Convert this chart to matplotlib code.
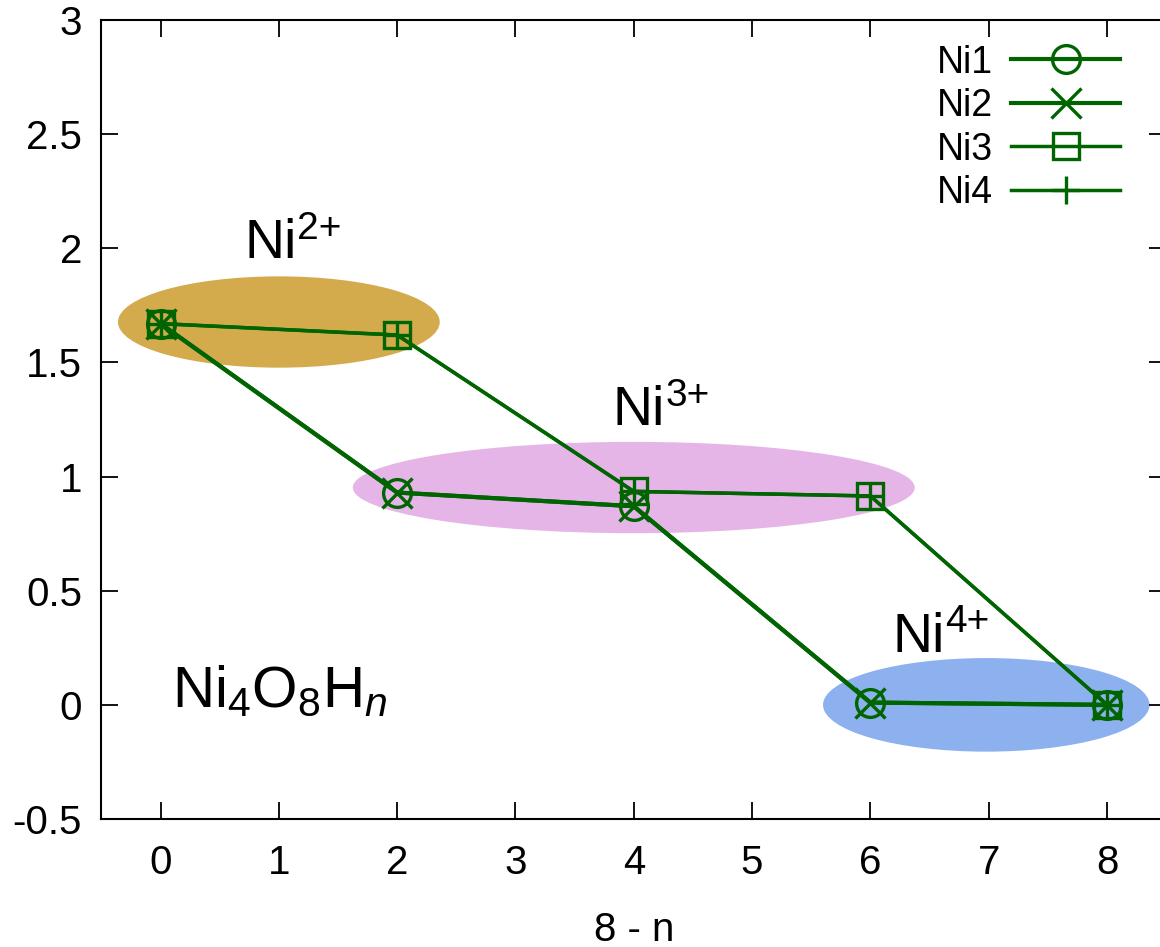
import matplotlib
matplotlib.use("Agg")
import matplotlib.pyplot as plt
from matplotlib.patches import Ellipse

plt.rcParams['font.family'] = ['Liberation Sans', 'DejaVu Sans']
plt.rcParams['mathtext.fontset'] = 'custom'
plt.rcParams['mathtext.rm'] = 'Liberation Sans'
plt.rcParams['mathtext.it'] = 'Liberation Sans:italic'

# data: 8 - n vs. value for each Ni site
x = [0, 2, 4, 6, 8]
ni1 = [1.67, 0.93, 0.87, 0.01, 0.0]
ni2 = [1.67, 0.93, 0.87, 0.01, 0.0]
ni3 = [1.67, 1.62, 0.935, 0.915, 0.0]
ni4 = [1.67, 1.62, 0.935, 0.915, 0.0]
names = ['Ni1', 'Ni2', 'Ni3', 'Ni4']
markers = ['o', 'x', 's', '+']

# oxidation-state regions: (center x, center y, width, height, colour)
regions = [
    (1.0, 1.677, 2.72, 0.40, '#d3aa4c'),
    (4.0, 0.952, 4.75, 0.40, '#e6b5e8'),
    (6.98, 0.0, 2.76, 0.41, '#8db0ee'),
]
region_labels = [
    (0.71, 1.957, '2+'),
    (3.82, 1.226, '3+'),
    (6.19, 0.232, '4+'),
]

green = '#006400'

fig = plt.figure(figsize=(11.6, 9.47), dpi=100)
ax = fig.add_axes([101.4 / 1160, 1 - 819 / 947, 1064.7 / 1160, 799 / 947])

for cx, cy, w, h, c in regions:
    ax.add_patch(Ellipse((cx, cy), w, h, facecolor=c, edgecolor='none', zorder=1))

series = [ni1, ni2, ni3, ni4]
widths = [3.0, 3.0, 2.5, 2.5]
sizes = [20, 21, 19, 20]
for ys, name, m, lw, ms in zip(series, names, markers, widths, sizes):
    ax.plot(x, ys, color=green, lw=lw, marker=m, ms=ms, mfc='none',
            mec=green, mew=2.4, label=name, zorder=3)

# "Ni" with its charge as a raised, smaller label
for tx, ty, charge in region_labels:
    ax.text(tx, ty, 'Ni', fontsize=40, ha='left', va='baseline', zorder=4)
    ax.annotate(charge, (tx, ty), xytext=(38, 14), textcoords='offset points',
                fontsize=28, ha='left', va='baseline', zorder=4)
ax.text(0.10, -0.01, r'$\mathrm{Ni_4O_8H}_{n}$', fontsize=42, ha='left',
        va='baseline', zorder=4)

ax.set_xlim(-0.5, 8.5)
ax.set_ylim(-0.5, 3)
ax.set_xticks(range(0, 9))
ax.set_yticks([-0.5, 0, 0.5, 1, 1.5, 2, 2.5, 3])
ax.set_yticklabels(['-0.5', '0', '0.5', '1', '1.5', '2', '2.5', '3'])
ax.tick_params(direction='in', length=12, width=1.3, labelsize=29,
               top=True, right=True)
ax.tick_params(axis='x', pad=18)
ax.tick_params(axis='y', pad=14)
for sp in ax.spines.values():
    sp.set_linewidth(1.5)
ax.set_xlabel('8 - n', fontsize=29, labelpad=21)

ax.legend(loc='upper right', bbox_to_anchor=(1120 / 1160, 0.953),
          bbox_transform=fig.transFigure, frameon=False, markerfirst=False,
          fontsize=27, handlelength=2.9, handletextpad=0.5, labelspacing=0.2,
          borderpad=0, borderaxespad=0)

fig.savefig('out.png', dpi=100)
